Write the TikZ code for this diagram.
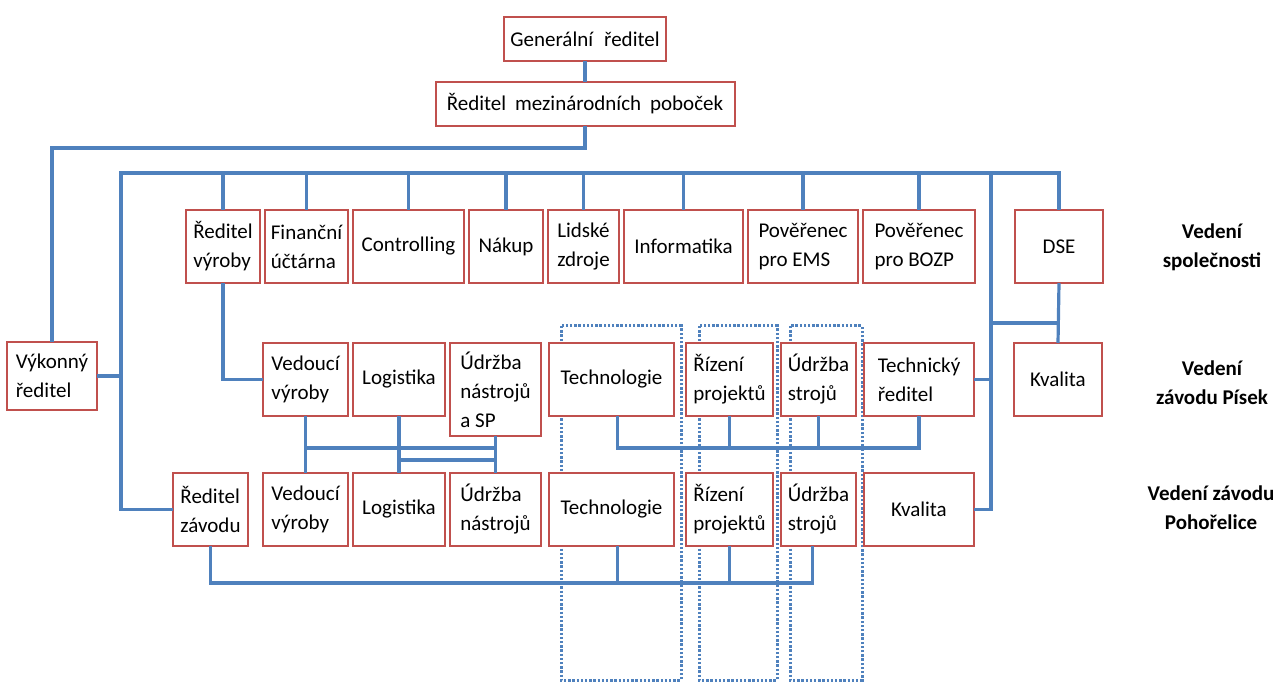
\documentclass[tikz,border=0pt]{standalone}
\usepackage{fontspec}
\setmainfont{Carlito}
\usepackage{tikz}
\usetikzlibrary{positioning}
\definecolor{boxred}{RGB}{192,80,77}
\definecolor{linkblue}{RGB}{79,129,189}

\begin{document}
\begin{tikzpicture}[
  x=1pt, y=-1pt,
  font=\fontsize{21}{29}\selectfont,
  box/.style={draw=boxred, line width=2pt, fill=white, align=left, inner sep=2pt, outer sep=0pt, minimum height=73pt},
  headbox/.style={box, minimum height=44pt},
  link/.style={draw=linkblue, line width=3.2pt},
  grp/.style={draw=linkblue, line width=3pt, dash pattern=on 2.4pt off 1.8pt},
  lvl/.style={font=\fontsize{21}{29}\selectfont\bfseries, align=center},
]
\useasboundingbox (0,0) rectangle (1282,684);

% --- dotted frames behind the boxes ----------------------------------------
\draw[grp] (561,326) rectangle (681,680);
\draw[grp] (699,326) rectangle (777,680);
\draw[grp] (790,326) rectangle (862,680);

% --- top ---------------------------------------------------------------------
\node[headbox, minimum width=162pt] (gr) at (585,39) {Generální\hspace{0.3em} ředitel};
\node[headbox, minimum width=299pt, below=21pt of gr] (rmp) {Ředitel\hspace{0.2em} mezinárodních\hspace{0.2em} poboček};

% --- row 1: Vedení společnosti -------------------------------------------------
\node[box, minimum width=74pt, anchor=north west] (rvyr) at (186,210) {Ředitel\\výroby};
\node[box, minimum width=83pt, right=5pt of rvyr] (fin) {Finanční\\účtárna};
\node[box, minimum width=111pt, right=5pt of fin] (ctrl) {Controlling};
\node[box, minimum width=74pt, right=5pt of ctrl] (nak) {Nákup};
\node[box, minimum width=71pt, right=5pt of nak] (lid) {Lidské\\zdroje};
\node[box, minimum width=119pt, right=5pt of lid] (inf) {Informatika};
\node[box, minimum width=110pt, right=5pt of inf] (ems) {Pověřenec\\pro EMS};
\node[box, minimum width=112pt, right=5pt of ems] (bozp) {Pověřenec\\pro BOZP};
\node[box, minimum width=88pt, right=40pt of bozp] (dse) {DSE};

% --- row 2: Vedení závodu Písek --------------------------------------------------
\node[box, minimum width=90pt, minimum height=68pt, anchor=north west] (vyk) at (7,342) {Výkonný\\ředitel};
\node[box, minimum width=85pt, anchor=north west] (ved2) at (263,343) {Vedoucí\\výroby};
\node[box, minimum width=92pt, right=5pt of ved2] (log2) {Logistika};
\node[box, minimum width=91pt, minimum height=93pt, right=5pt of log2.north east, anchor=north west] (udr2) {Údržba\\nástrojů\\a SP};
\node[box, minimum width=125pt, right=8pt of udr2.north east, anchor=north west] (tech2) {Technologie};
\node[box, minimum width=87pt, right=12pt of tech2] (riz2) {Řízení\\projektů};
\node[box, minimum width=75pt, right=8pt of riz2] (uds2) {Údržba\\strojů};
\node[box, minimum width=110pt, right=8pt of uds2] (techr) {Technický\\ředitel};
\node[box, minimum width=88pt, right=40pt of techr] (kval2) {Kvalita};

% --- row 3: Vedení závodu Pohořelice -----------------------------------------------
\node[box, minimum width=75pt, anchor=north west] (rzav) at (173,473) {Ředitel\\závodu};
\node[box, minimum width=85pt, right=15pt of rzav] (ved3) {Vedoucí\\výroby};
\node[box, minimum width=92pt, right=5pt of ved3] (log3) {Logistika};
\node[box, minimum width=91pt, right=5pt of log3] (udr3) {Údržba\\nástrojů};
\node[box, minimum width=125pt, right=8pt of udr3] (tech3) {Technologie};
\node[box, minimum width=87pt, right=12pt of tech3] (riz3) {Řízení\\projektů};
\node[box, minimum width=75pt, right=8pt of riz3] (uds3) {Údržba\\strojů};
\node[box, minimum width=110pt, right=8pt of uds3] (kval3) {Kvalita};

% --- level labels --------------------------------------------------------------
\node[lvl] (lv1) at (1212,247) {Vedení\\společnosti};
\node[lvl] (lv2) at (1212,383) {Vedení\\závodu Písek};
\node[lvl] (lv3) at (1211,508) {Vedení závodu\\Pohořelice};

% --- connectors ------------------------------------------------------------------
\coordinate (busl) at (121,173);
\coordinate (busr) at (991,173);
\coordinate (split) at (991,323);
\coordinate (midA) at (0,448);
\coordinate (midB) at (0,460);
\coordinate (low) at (0,583);

\draw[link] (gr.south) -- (rmp.north);
\draw[link] (rmp.south) -- ++(0,22) -| (vyk.north);
\draw[link] (dse.north) |- (busl) |- (rzav.west);
\foreach \n in {rvyr,fin,ctrl,nak,lid,inf,ems,bozp}
  \draw[link] (\n.north) -- (\n.north |- busl);
\draw[link] (busr) |- (kval3.east);
\draw[link] (vyk.east) -- (vyk.east -| busl);
\draw[link] (techr.east) -- (techr.east -| busr);
\draw[link] (split) -- (split -| dse.south);
\draw[link] (dse.south) -- (kval2.north);
\draw[link] (rvyr.south) |- (ved2.west);
% left group, Písek to Pohořelice
\foreach \n in {ved,log,udr}
  \draw[link] (\n2.south) -- (\n3.north);
\draw[link] (ved2.south |- midA) -- (udr2.south |- midA);
\draw[link] (log2.south |- midB) -- (udr2.south |- midB);
% right group, Písek
\draw[link] ([xshift=6pt]tech2.south) |- (techr.south |- midA) -- (techr.south);
\foreach \n in {riz2,uds2}
  \draw[link] (\n.south) -- (\n.south |- midA);
% bottom bus, Pohořelice
\draw[link] (rzav.south) |- ([xshift=-6pt]uds3.south |- low) -- ([xshift=-6pt]uds3.south);
\draw[link] ([xshift=6pt]tech3.south) -- ([xshift=6pt]tech3.south |- low);
\draw[link] (riz3.south) -- (riz3.south |- low);
\end{tikzpicture}
\end{document}
